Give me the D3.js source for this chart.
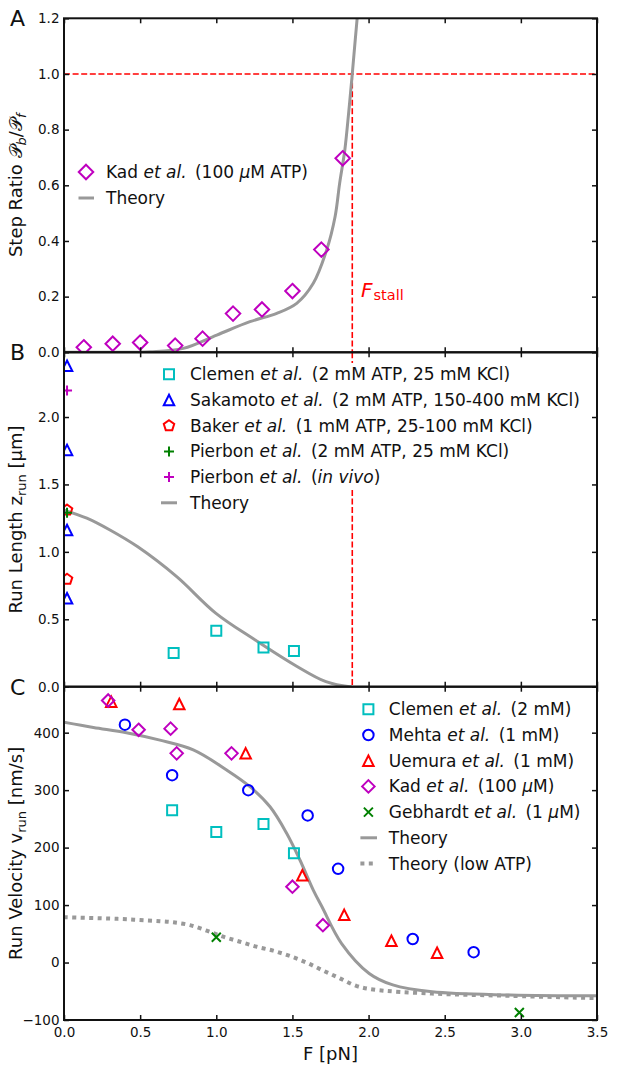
<!DOCTYPE html>
<html><head><meta charset="utf-8">
<script src="https://cdn.jsdelivr.net/npm/d3@7"></script>
<style>
body{margin:0;background:#fff}
text{font-family:"DejaVu Sans",sans-serif;fill:#111}
</style>
</head><body>
<svg id="chart" width="617" height="1073"></svg>
<script>
// ---------------- data ----------------
const F_STALL = 1.893;
const xTicks = [0,0.5,1.0,1.5,2.0,2.5,3.0,3.5];
const aTicks = [0,0.2,0.4,0.6,0.8,1.0,1.2];
const bTicks = [0,0.5,1.0,1.5,2.0];
const cTicks = [-100,0,100,200,300,400];

// Panel A : step ratio
const kadA_F     = [0.13,0.32,0.50,0.73,0.91,1.11,1.30,1.50,1.69,1.83];
const kadA_ratio = [0.018,0.031,0.035,0.024,0.049,0.139,0.154,0.220,0.369,0.697];
const theoryA_F     = [0,0.3,0.565,0.783,1.003,1.221,1.397,1.528,1.637,1.725,1.78,1.81,1.844,1.87,1.893,1.912,1.93];
const theoryA_ratio = [0,0,0.002,0.014,0.062,0.110,0.140,0.176,0.248,0.368,0.487,0.607,0.727,0.865,1.0,1.12,1.23];

// Panel B : run length
const clemenB_F = [0.72,1.00,1.31,1.51];
const clemenB_z = [0.25,0.415,0.29,0.265];
const sakamoto_F = [0.02,0.02,0.02,0.02];
const sakamoto_z = [2.38,1.756,1.162,0.656];
const baker_F = [0.02,0.02];
const baker_z = [1.31,0.797];
const pierbonG_F = [0.02];
const pierbonG_z = [1.29];
const pierbonM_F = [0.02];
const pierbonM_z = [2.196];
const theoryB_F = [0,0.15,0.302,0.482,0.74,0.998,1.256,1.514,1.72,1.875,1.89];
const theoryB_z = [1.31,1.25,1.162,1.039,0.816,0.544,0.346,0.161,0.037,0.0,0.0];

// Panel C : run velocity
const clemenC_F = [0.71,1.00,1.31,1.51];
const clemenC_v = [265,227,241,190];
const mehta_F = [0.40,0.71,1.21,1.60,1.80,2.29,2.69];
const mehta_v = [414,326,300,256,163,41,18];
const uemura_F = [0.31,0.757,1.193,1.565,1.84,2.15,2.45];
const uemura_v = [454,450,364,152,83,38,17];
const kadC_F = [0.29,0.49,0.70,0.74,1.10,1.50,1.70];
const kadC_v = [456,405,407,364,364,132,65];
const gebhardt_F = [1.0,2.99];
const gebhardt_v = [44,-87];
const theoryC_F = [0,0.193,0.41,0.63,0.849,1.068,1.221,1.353,1.462,1.55,1.637,1.694,1.823,2.004,2.159,2.417,2.932,3.5];
const theoryC_v = [418,409,400,387,370,335,306,271,225,178,126,97,33,-19,-39,-51,-56.5,-58];
const theoryLow_F = [0,0.353,0.499,0.63,0.718,0.827,0.937,1.046,1.156,1.265,1.374,1.484,1.594,1.703,1.812,1.922,2.03,2.416,2.93,3.5];
const theoryLow_v = [79,76,74,72,70,65,55.5,45,36.2,27.5,20.6,11.3,-0.3,-14.2,-27.5,-40.9,-47,-54,-58,-62];

// ---------------- layout ----------------
const svg = d3.select("#chart");
const L = 64, R = 597;
const panels = {
  A:{top:18.3, bottom:352.3, domain:[0,1.2]},
  B:{top:352.3, bottom:686.7, domain:[0,2.48]},
  C:{top:686.7, bottom:1020, domain:[-100,480]}
};
const x = d3.scaleLinear().domain([0,3.5]).range([L,R]);
const yA = d3.scaleLinear().domain(panels.A.domain).range([panels.A.bottom,panels.A.top]);
const yB = d3.scaleLinear().domain(panels.B.domain).range([panels.B.bottom,panels.B.top]);
const yC = d3.scaleLinear().domain(panels.C.domain).range([panels.C.bottom,panels.C.top]);

const COL = {c:"#00BFBF", b:"#0000FF", r:"#FF0000", g:"#008000", m:"#BF00BF", gray:"#999999", red:"#FF0000"};

function sym(type, s){
  const h = s/2;
  switch(type){
    case "square": return `M${-h},${-h}H${h}V${h}H${-h}Z`;
    case "circle": return `M${h},0A${h},${h} 0 1,1 ${-h},0A${h},${h} 0 1,1 ${h},0Z`;
    case "tri": return `M0,${-h}L${h},${h}L${-h},${h}Z`;
    case "diamond": return `M0,${-h}L${h},0L0,${h}L${-h},0Z`;
    case "pent": {
      let p=[]; for(let i=0;i<5;i++){const a=-Math.PI/2+i*2*Math.PI/5; p.push([h*Math.cos(a),h*Math.sin(a)]);}
      return "M"+p.map(d=>d[0].toFixed(2)+","+d[1].toFixed(2)).join("L")+"Z";
    }
    case "plus": return `M${-h},0H${h}M0,${-h}V${h}`;
    case "x": return `M${-h},${-h}L${h},${h}M${-h},${h}L${h},${-h}`;
  }
}

const defs = svg.append("defs");
["A","B","C"].forEach(k=>{
  const p=panels[k];
  defs.append("clipPath").attr("id","clip"+k).append("rect")
    .attr("x",L).attr("y",p.top).attr("width",R-L).attr("height",p.bottom-p.top);
});

function drawMarkers(g, Fs, Vs, y, type, size, color, sw){
  g.selectAll(null).data(Fs.map((f,i)=>[f,Vs[i]])).enter().append("path")
    .attr("d", sym(type,size))
    .attr("transform", d=>`translate(${x(d[0])},${y(d[1])})`)
    .attr("fill","none").attr("stroke",color).attr("stroke-width",sw||2);
}
function drawLine(g, Fs, Vs, y, color, width, dash){
  const line = d3.line().x(d=>x(d[0])).y(d=>y(d[1])).curve(d3.curveCatmullRom.alpha(0.5));
  const p = g.append("path").datum(Fs.map((f,i)=>[f,Vs[i]]))
    .attr("d",line).attr("fill","none").attr("stroke",color).attr("stroke-width",width);
  if(dash) p.attr("stroke-dasharray",dash);
  return p;
}

function axes(key, y, ticks, fmt, showX){
  const p = panels[key];
  const g = svg.append("g");
  g.append("g").attr("transform",`translate(${L},0)`)
    .call(d3.axisLeft(y).tickValues(ticks).tickFormat(d3.format(fmt)).tickSize(-5).tickPadding(4.5));
  g.append("g").attr("transform",`translate(${R},0)`)
    .call(d3.axisRight(y).tickValues(ticks).tickFormat("").tickSize(-5));
  g.append("g").attr("transform",`translate(0,${p.top})`)
    .call(d3.axisTop(x).tickValues(xTicks).tickFormat("").tickSize(-5));
  g.append("g").attr("transform",`translate(0,${p.bottom})`)
    .call(d3.axisBottom(x).tickValues(xTicks).tickFormat(showX?d3.format(".1f"):"").tickSize(-5).tickPadding(7));
  g.selectAll(".domain").remove();
  g.selectAll(".tick line").attr("stroke","#111").attr("stroke-width",1.5);
  g.selectAll(".tick text").attr("font-size",13.5).attr("font-family","DejaVu Sans").attr("fill","#111");
  g.append("rect").attr("x",L).attr("y",p.top).attr("width",R-L).attr("height",p.bottom-p.top)
    .attr("fill","none").attr("stroke","#111").attr("stroke-width",2);
}

// ---------------- Panel A ----------------
const gA = svg.append("g").attr("clip-path","url(#clipA)");
gA.append("line").attr("x1",x(0)).attr("x2",x(3.5)).attr("y1",yA(1)).attr("y2",yA(1))
  .attr("stroke",COL.red).attr("stroke-width",1.6).attr("stroke-dasharray","6,2.6");
gA.append("line").attr("x1",x(F_STALL)).attr("x2",x(F_STALL)).attr("y1",yA(1)).attr("y2",yA(0))
  .attr("stroke",COL.red).attr("stroke-width",1.6).attr("stroke-dasharray","6,2.6");
drawLine(gA, theoryA_F, theoryA_ratio, yA, COL.gray, 3);
drawMarkers(gA, kadA_F, kadA_ratio, yA, "diamond", 14.5, COL.m, 2);

// ---------------- Panel B ----------------
const gB = svg.append("g").attr("clip-path","url(#clipB)");
gB.append("line").attr("x1",x(F_STALL)).attr("x2",x(F_STALL)).attr("y1",yB(2.48)).attr("y2",yB(0))
  .attr("stroke",COL.red).attr("stroke-width",1.6).attr("stroke-dasharray","6,2.6");
drawLine(gB, theoryB_F, theoryB_z, yB, COL.gray, 3);
drawMarkers(gB, clemenB_F, clemenB_z, yB, "square", 10, COL.c, 2);
drawMarkers(gB, sakamoto_F, sakamoto_z, yB, "tri", 10.5, COL.b, 2);
drawMarkers(gB, baker_F, baker_z, yB, "pent", 11, COL.r, 2);
drawMarkers(gB, pierbonG_F, pierbonG_z, yB, "plus", 10, COL.g, 2);
drawMarkers(gB, pierbonM_F, pierbonM_z, yB, "plus", 10, COL.m, 2);

// ---------------- Panel C ----------------
const gC = svg.append("g").attr("clip-path","url(#clipC)");
drawLine(gC, theoryLow_F, theoryLow_v, yC, COL.gray, 4, "4,4.4");
drawLine(gC, theoryC_F, theoryC_v, yC, COL.gray, 3);
drawMarkers(gC, clemenC_F, clemenC_v, yC, "square", 10, COL.c, 2);
drawMarkers(gC, mehta_F, mehta_v, yC, "circle", 10.5, COL.b, 2);
drawMarkers(gC, uemura_F, uemura_v, yC, "tri", 10.5, COL.r, 2);
drawMarkers(gC, kadC_F, kadC_v, yC, "diamond", 12.5, COL.m, 2);
drawMarkers(gC, gebhardt_F, gebhardt_v, yC, "x", 9, COL.g, 2);

// axes
axes("A", yA, aTicks, ".1f", false);
axes("B", yB, bTicks, ".1f", false);
axes("C", yC, cTicks, "d", true);

// ---------------- legends ----------------
function legendText(g, xx, yy, parts){
  const t = g.append("text").attr("x",xx).attr("y",yy+6).attr("font-size",17);
  parts.forEach(p=>{
    const ts = t.append("tspan").text(p.t);
    if(p.i) ts.attr("font-style","italic");
    if(p.dx) ts.attr("dx",p.dx);
  });
}
function legend(entries, mx, tx, y0, dy, lx1, lx2){
  const g = svg.append("g");
  entries.forEach((e,i)=>{
    const yy = y0 + i*dy;
    if(e.line){
      const l = g.append("line").attr("x1",lx1).attr("x2",lx2).attr("y1",yy).attr("y2",yy)
        .attr("stroke",COL.gray).attr("stroke-width",e.dash?4:3);
      if(e.dash) l.attr("stroke-dasharray","4,4.4");
    } else {
      g.append("path").attr("d",sym(e.type,e.size)).attr("transform",`translate(${mx},${yy})`)
        .attr("fill","none").attr("stroke",e.color).attr("stroke-width",2);
    }
    legendText(g, tx, yy, e.parts);
  });
}
const etal = [{t:" "},{t:"et al.",i:true},{t:" ",dx:3}];

legend([
  {type:"diamond",size:14.5,color:COL.m,parts:[{t:"Kad"},...etal,{t:"(100 "},{t:"μ",i:true},{t:"M ATP)"}]},
  {line:true,parts:[{t:"Theory"}]}
], 86, 106, 172, 26, 78.5, 94);

// white legend background in panel B
svg.append("rect").attr("x",162).attr("y",363).attr("width",430).attr("height",125).attr("fill","#fff");
legend([
  {type:"square",size:10,color:COL.c,parts:[{t:"Clemen"},...etal,{t:"(2 mM ATP, 25 mM KCl)"}]},
  {type:"tri",size:10.5,color:COL.b,parts:[{t:"Sakamoto"},...etal,{t:"(2 mM ATP, 150-400 mM KCl)"}]},
  {type:"pent",size:11,color:COL.r,parts:[{t:"Baker"},...etal,{t:"(1 mM ATP, 25-100 mM KCl)"}]},
  {type:"plus",size:10,color:COL.g,parts:[{t:"Pierbon"},...etal,{t:"(2 mM ATP, 25 mM KCl)"}]},
  {type:"plus",size:10,color:COL.m,parts:[{t:"Pierbon"},...etal,{t:"("},{t:"in vivo",i:true},{t:")"}]},
  {line:true,parts:[{t:"Theory"}]}
], 169, 190, 374.3, 25.7, 161, 177);

legend([
  {type:"square",size:10,color:COL.c,parts:[{t:"Clemen"},...etal,{t:"(2 mM)"}]},
  {type:"circle",size:10.5,color:COL.b,parts:[{t:"Mehta"},...etal,{t:"(1 mM)"}]},
  {type:"tri",size:10.5,color:COL.r,parts:[{t:"Uemura"},...etal,{t:"(1 mM)"}]},
  {type:"diamond",size:12.5,color:COL.m,parts:[{t:"Kad"},...etal,{t:"(100 "},{t:"μ",i:true},{t:"M)"}]},
  {type:"x",size:9,color:COL.g,parts:[{t:"Gebhardt"},...etal,{t:"(1 "},{t:"μ",i:true},{t:"M)"}]},
  {line:true,parts:[{t:"Theory"}]},
  {line:true,dash:true,parts:[{t:"Theory (low ATP)"}]}
], 368.4, 388.8, 709.3, 25.7, 360.4, 377);

// F_stall label
const fs = svg.append("text").attr("x",361).attr("y",297).attr("font-size",20).style("fill",COL.red);
fs.append("tspan").text("F").attr("font-style","italic").style("fill",COL.red);
fs.append("tspan").text("stall").attr("font-size",14.5).attr("dy",3).attr("dx",1).style("fill",COL.red);

// axis labels
function ylabel(cy, parts){
  const t = svg.append("text").attr("transform",`translate(21.5,${cy}) rotate(-90)`)
    .attr("text-anchor","middle").attr("font-size",18);
  parts.forEach(p=>{
    const ts = t.append("tspan").text(p.t);
    if(p.i) ts.attr("font-style","italic");
    if(p.sub) ts.attr("font-size",13).attr("dy",4);
    if(p.up) ts.attr("dy",-4);
  });
}
ylabel((panels.A.top+panels.A.bottom)/2, [{t:"Step Ratio "},{t:"𝒫"},{t:"b",i:true,sub:true},{t:"/",up:true},{t:"𝒫"},{t:"f",i:true,sub:true}]);
ylabel((panels.B.top+panels.B.bottom)/2, [{t:"Run Length z"},{t:"run",sub:true},{t:" [μm]",up:true}]);
ylabel((panels.C.top+panels.C.bottom)/2, [{t:"Run Velocity v"},{t:"run",sub:true},{t:" [nm/s]",up:true}]);

svg.append("text").attr("x",(L+R)/2).attr("y",1060).attr("text-anchor","middle").attr("font-size",18).text("F [pN]");

// panel letters
[["A",panels.A.top],["B",panels.B.top],["C",panels.C.top]].forEach(([k,yy])=>{
  svg.append("text").attr("x",10).attr("y",yy+8).attr("font-size",22).text(k);
});
</script>
</body></html>
